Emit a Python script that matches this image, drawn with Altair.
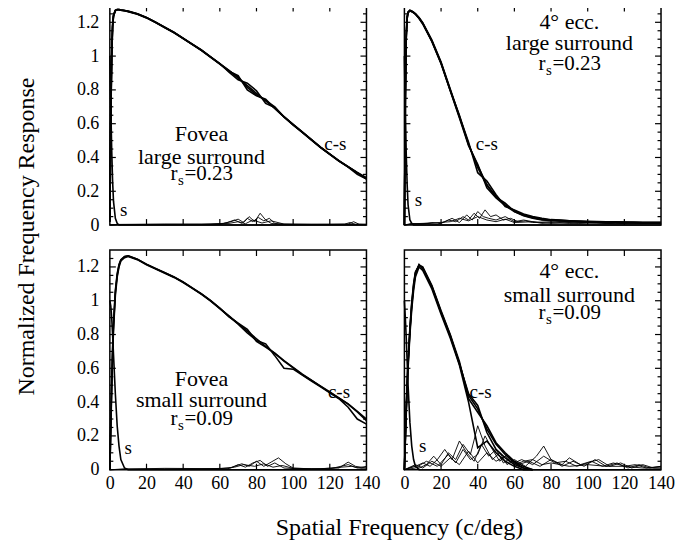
import altair as alt
import pandas as pd

FONT = "Liberation Serif"
W, H = 257, 220

Y_TITLE = "Normalized Frequency Response"
X_TITLE = "Spatial Frequency (c/deg)"

X_LABELS = [0, 20, 40, 60, 80, 100, 120, 140]
Y_LABELS = [0, 0.2, 0.4, 0.6, 0.8, 1, 1.2]
XT_MAJOR = [20, 40, 60, 80, 100, 120]
YT_MAJOR = [0.2, 0.4, 0.6, 0.8, 1.0, 1.2]
YT_MINOR = [0.05, 0.1, 0.15, 0.25, 0.3, 0.35, 0.45, 0.5, 0.55, 0.65, 0.7, 0.75,
            0.85, 0.9, 0.95, 1.05, 1.1, 1.15, 1.25]

# common frequency grid for the c-s curves
X = [0, 0.5, 1, 1.5, 2, 3, 4, 5, 6, 8, 10, 15, 20, 25, 30, 35, 40, 45, 50, 55, 60,
     65, 70, 75, 80, 85, 90, 95, 100, 105, 110, 115, 120, 125, 130, 135, 140]
DX = X[:23]
S_X = [0, 0.5, 1, 1.5, 2, 3, 4, 5, 6, 8, 10, 140]

# ---- Fovea, large surround
A_CS1 = [0.02, 0.62, 1.0, 1.18, 1.24, 1.27, 1.275, 1.275, 1.272, 1.27, 1.265, 1.25, 1.228, 1.2, 1.17, 1.14, 1.105, 1.07, 1.035, 0.995, 0.955, 0.915, 0.87, 0.825, 0.78, 0.735, 0.69, 0.64, 0.595, 0.55, 0.505, 0.46, 0.42, 0.38, 0.345, 0.31, 0.275]
A_CS2 = [0.02, 0.58, 0.98, 1.17, 1.235, 1.268, 1.274, 1.274, 1.272, 1.268, 1.263, 1.248, 1.226, 1.198, 1.168, 1.138, 1.103, 1.068, 1.033, 0.993, 0.953, 0.91, 0.885, 0.8, 0.765, 0.745, 0.69, 0.64, 0.592, 0.548, 0.503, 0.458, 0.418, 0.378, 0.343, 0.3, 0.272]
A_CS3 = [0.03, 0.65, 1.02, 1.19, 1.245, 1.272, 1.276, 1.276, 1.273, 1.27, 1.266, 1.251, 1.229, 1.201, 1.171, 1.141, 1.106, 1.071, 1.036, 0.996, 0.956, 0.905, 0.86, 0.84, 0.795, 0.72, 0.695, 0.642, 0.596, 0.551, 0.506, 0.461, 0.421, 0.381, 0.346, 0.312, 0.28]
A_CS4 = [0.02, 0.6, 0.99, 1.175, 1.238, 1.269, 1.275, 1.275, 1.272, 1.269, 1.264, 1.249, 1.227, 1.199, 1.169, 1.139, 1.104, 1.069, 1.034, 0.994, 0.954, 0.914, 0.875, 0.815, 0.77, 0.738, 0.7, 0.64, 0.594, 0.549, 0.504, 0.459, 0.419, 0.379, 0.344, 0.309, 0.274]
A_S = [1.0, 0.72, 0.45, 0.26, 0.14, 0.04, 0.01, 0.0, 0.0, 0.0, 0.0, 0.0]
A_N1_X = [0, 5, 50, 62, 66, 70, 73, 76, 79, 82, 85, 88, 92, 100, 130, 133, 136, 140]
A_N1_Y = [0, 0.003, 0.005, 0.01, 0.02, 0.035, 0.015, 0.05, 0.02, 0.07, 0.03, 0.01, 0.005, 0.004, 0.005, 0.02, 0.005, 0.004]
A_N2_X = [0, 5, 40, 60, 64, 68, 72, 75, 78, 81, 84, 87, 90, 95, 120, 128, 131, 134, 140]
A_N2_Y = [0, 0.002, 0.004, 0.005, 0.015, 0.03, 0.01, 0.04, 0.02, 0.045, 0.025, 0.04, 0.01, 0.005, 0.004, 0.005, 0.015, 0.004, 0.003]
A_N3_X = [0, 5, 30, 55, 65, 70, 74, 78, 83, 88, 95, 110, 140]
A_N3_Y = [0, 0.004, 0.006, 0.004, 0.01, 0.02, 0.008, 0.03, 0.012, 0.025, 0.006, 0.004, 0.005]

# ---- 4 deg ecc., large surround
B_CS1 = [0.0, 0.75, 1.12, 1.23, 1.26, 1.27, 1.265, 1.258, 1.25, 1.225, 1.195, 1.09, 0.96, 0.8, 0.64, 0.48, 0.34, 0.235, 0.17, 0.12, 0.085, 0.06, 0.045, 0.035, 0.03, 0.028, 0.025, 0.022, 0.02, 0.02, 0.018, 0.018, 0.016, 0.016, 0.015, 0.015, 0.015]
B_CS2 = [0.0, 0.7, 1.1, 1.22, 1.255, 1.268, 1.263, 1.256, 1.248, 1.222, 1.19, 1.085, 0.955, 0.795, 0.635, 0.47, 0.36, 0.22, 0.16, 0.115, 0.08, 0.055, 0.04, 0.03, 0.028, 0.025, 0.022, 0.02, 0.018, 0.018, 0.016, 0.016, 0.015, 0.015, 0.014, 0.014, 0.014]
B_CS3 = [0.0, 0.78, 1.14, 1.235, 1.262, 1.272, 1.267, 1.26, 1.252, 1.228, 1.198, 1.095, 0.965, 0.805, 0.645, 0.49, 0.31, 0.26, 0.18, 0.11, 0.09, 0.065, 0.05, 0.04, 0.032, 0.03, 0.026, 0.024, 0.022, 0.021, 0.02, 0.019, 0.018, 0.017, 0.016, 0.016, 0.016]
B_CS4 = [0.0, 0.72, 1.11, 1.225, 1.258, 1.269, 1.264, 1.257, 1.249, 1.224, 1.193, 1.088, 0.958, 0.798, 0.65, 0.475, 0.35, 0.24, 0.165, 0.13, 0.08, 0.058, 0.043, 0.033, 0.029, 0.026, 0.024, 0.021, 0.019, 0.019, 0.017, 0.017, 0.015, 0.015, 0.014, 0.014, 0.014]
B_S = [1.0, 0.7, 0.42, 0.24, 0.12, 0.03, 0.01, 0.0, 0.0, 0.0, 0.0, 0.0]
B_N1_X = [0, 4, 10, 15, 20, 24, 28, 32, 35, 38, 41, 44, 47, 50, 54, 58, 62, 66, 70, 80, 90, 100, 110, 120, 130, 140]
B_N1_Y = [0, 0.01, 0.005, 0.015, 0.01, 0.03, 0.02, 0.05, 0.03, 0.07, 0.04, 0.09, 0.05, 0.06, 0.03, 0.04, 0.02, 0.025, 0.015, 0.02, 0.01, 0.015, 0.01, 0.015, 0.01, 0.012]
B_N2_X = [0, 4, 12, 18, 22, 26, 30, 34, 37, 40, 43, 46, 50, 55, 60, 65, 75, 85, 95, 105, 115, 125, 135, 140]
B_N2_Y = [0, 0.005, 0.01, 0.005, 0.02, 0.04, 0.015, 0.06, 0.03, 0.08, 0.05, 0.04, 0.03, 0.05, 0.02, 0.03, 0.01, 0.02, 0.01, 0.012, 0.008, 0.012, 0.01, 0.008]
B_N3_X = [0, 5, 15, 25, 30, 35, 40, 45, 50, 55, 60, 70, 80, 100, 120, 140]
B_N3_Y = [0, 0.008, 0.012, 0.02, 0.04, 0.025, 0.05, 0.03, 0.02, 0.035, 0.015, 0.02, 0.01, 0.015, 0.01, 0.01]

# ---- Fovea, small surround
C_CS1 = [0.0, 0.25, 0.5, 0.7, 0.85, 1.05, 1.15, 1.21, 1.24, 1.26, 1.265, 1.245, 1.215, 1.19, 1.165, 1.14, 1.11, 1.075, 1.04, 1.0, 0.955, 0.91, 0.865, 0.82, 0.775, 0.73, 0.69, 0.645, 0.605, 0.565, 0.53, 0.495, 0.46, 0.425, 0.39, 0.345, 0.3]
C_CS2 = [0.0, 0.22, 0.47, 0.67, 0.83, 1.03, 1.14, 1.2, 1.235, 1.255, 1.262, 1.243, 1.213, 1.188, 1.163, 1.138, 1.108, 1.073, 1.038, 0.998, 0.953, 0.908, 0.862, 0.81, 0.765, 0.745, 0.675, 0.6, 0.595, 0.56, 0.525, 0.49, 0.455, 0.42, 0.37, 0.3, 0.27]
C_CS3 = [0.0, 0.27, 0.52, 0.72, 0.87, 1.06, 1.16, 1.215, 1.242, 1.262, 1.266, 1.246, 1.216, 1.191, 1.166, 1.141, 1.111, 1.076, 1.041, 1.001, 0.956, 0.905, 0.868, 0.83, 0.76, 0.725, 0.688, 0.642, 0.603, 0.563, 0.528, 0.493, 0.458, 0.423, 0.388, 0.342, 0.29]
C_S = [1.0, 0.97, 0.9, 0.8, 0.68, 0.45, 0.26, 0.14, 0.06, 0.01, 0.0, 0.0]
C_N1_X = [0, 8, 40, 64, 68, 72, 76, 80, 84, 88, 92, 96, 100, 110, 125, 130, 134, 140]
C_N1_Y = [0, 0.003, 0.004, 0.005, 0.02, 0.035, 0.02, 0.05, 0.02, 0.045, 0.07, 0.035, 0.01, 0.005, 0.01, 0.045, 0.02, 0.01]
C_N2_X = [0, 8, 50, 66, 70, 74, 78, 82, 86, 90, 95, 105, 120, 126, 130, 135, 140]
C_N2_Y = [0, 0.002, 0.004, 0.01, 0.03, 0.015, 0.04, 0.055, 0.02, 0.04, 0.01, 0.004, 0.005, 0.02, 0.03, 0.01, 0.02]
C_N3_X = [0, 8, 30, 60, 68, 73, 79, 84, 89, 94, 100, 115, 132, 137, 140]
C_N3_Y = [0, 0.004, 0.008, 0.006, 0.015, 0.03, 0.02, 0.035, 0.015, 0.025, 0.008, 0.005, 0.02, 0.008, 0.01]

# ---- 4 deg ecc., small surround
D_CS1 = [0.0, 0.18, 0.35, 0.5, 0.62, 0.82, 0.97, 1.08, 1.16, 1.215, 1.19, 1.08, 0.93, 0.79, 0.63, 0.44, 0.36, 0.24, 0.15, 0.09, 0.04, 0.01, 0.0]
D_CS2 = [0.0, 0.2, 0.37, 0.52, 0.64, 0.84, 0.99, 1.1, 1.17, 1.21, 1.2, 1.09, 0.94, 0.8, 0.64, 0.42, 0.34, 0.26, 0.16, 0.1, 0.05, 0.02, 0.0]
D_CS3 = [0.0, 0.16, 0.33, 0.48, 0.6, 0.8, 0.95, 1.06, 1.14, 1.2, 1.18, 1.07, 0.92, 0.78, 0.62, 0.4, 0.13, 0.17, 0.1, 0.05, 0.02, 0.0, 0.0]
D_CS4 = [0.0, 0.19, 0.36, 0.51, 0.63, 0.83, 0.98, 1.09, 1.165, 1.212, 1.195, 1.085, 0.935, 0.795, 0.625, 0.45, 0.38, 0.22, 0.12, 0.07, 0.03, 0.01, 0.0]
D_S = [1.0, 0.9, 0.78, 0.64, 0.5, 0.28, 0.14, 0.06, 0.02, 0.0, 0.0, 0.0]
D_N1_X = [0, 5, 8, 12, 16, 20, 24, 28, 32, 36, 40, 44, 48, 52, 56, 60, 66, 72, 76, 80, 86, 92, 98, 104, 110, 116, 122, 128, 134, 140]
D_N1_Y = [0, 0.02, 0.01, 0.03, 0.08, 0.03, 0.1, 0.06, 0.15, 0.09, 0.26, 0.14, 0.06, 0.1, 0.03, 0.06, 0.02, 0.08, 0.14, 0.06, 0.02, 0.05, 0.02, 0.06, 0.02, 0.04, 0.01, 0.03, 0.01, 0.02]
D_N2_X = [0, 6, 10, 14, 18, 22, 26, 30, 34, 38, 42, 46, 50, 54, 58, 62, 68, 74, 80, 86, 90, 96, 102, 108, 114, 120, 126, 132, 140]
D_N2_Y = [0, 0.02, 0.04, 0.02, 0.06, 0.12, 0.06, 0.17, 0.1, 0.05, 0.15, 0.08, 0.12, 0.04, 0.07, 0.03, 0.05, 0.02, 0.06, 0.03, 0.07, 0.03, 0.05, 0.02, 0.04, 0.02, 0.03, 0.01, 0.02]
D_N3_X = [0, 6, 12, 18, 24, 28, 32, 36, 40, 44, 48, 52, 56, 60, 64, 70, 76, 82, 88, 94, 100, 106, 112, 118, 124, 130, 136, 140]
D_N3_Y = [0, 0.01, 0.05, 0.02, 0.09, 0.04, 0.12, 0.06, 0.09, 0.2, 0.12, 0.05, 0.09, 0.04, 0.06, 0.03, 0.08, 0.04, 0.05, 0.02, 0.04, 0.06, 0.02, 0.04, 0.01, 0.03, 0.01, 0.01]
D_N4_X = [0, 6, 10, 15, 20, 25, 30, 35, 40, 45, 50, 55, 60, 65, 70, 75, 80, 90, 100, 110, 120, 130, 140]
D_N4_Y = [0, 0.03, 0.01, 0.05, 0.02, 0.07, 0.03, 0.11, 0.04, 0.1, 0.05, 0.08, 0.03, 0.05, 0.06, 0.03, 0.04, 0.02, 0.03, 0.02, 0.02, 0.01, 0.01]

# ---- annotations: (x, y, text)
A_BIG = [(50, 0.54, "Fovea"), (50, 0.405, "large surround")]
A_RS = (50, 0.30, "=0.23")
A_SMALL = [(123, 0.48, "c-s"), (7.5, 0.09, "s")]
B_BIG = [(90, 1.2, "4° ecc."), (90, 1.075, "large surround")]
B_RS = (90, 0.955, "=0.23")
B_SMALL = [(45, 0.48, "c-s"), (7.6, 0.15, "s")]
C_BIG = [(50, 0.535, "Fovea"), (50, 0.415, "small surround")]
C_RS = (50, 0.30, "=0.09")
C_SMALL = [(125, 0.46, "c-s"), (10, 0.13, "s")]
D_BIG = [(90, 1.175, "4° ecc."), (90, 1.035, "small surround")]
D_RS = (90, 0.93, "=0.09")
D_SMALL = [(41.6, 0.46, "c-s"), (10, 0.14, "s")]

XS = alt.Scale(domain=[0, 140], nice=False, zero=False)
YS = alt.Scale(domain=[0, 1.3], nice=False, zero=False)
AX = dict(title=None, labelFont=FONT, labelFontSize=18, labelColor="black",
          ticks=False, domain=False, grid=False)
FRAME = alt.ViewBackground(stroke="black", strokeWidth=1.5)


def xenc(field, show):
    if show:
        ax = alt.Axis(values=X_LABELS, labelFlush=False, labelPadding=5, **AX)
        return alt.X(f"{field}:Q", scale=XS, axis=ax)
    return alt.X(f"{field}:Q", scale=XS, axis=None)


def yenc(field, show):
    if show:
        ax = alt.Axis(values=Y_LABELS, format="~g", labelPadding=11, **AX)
        return alt.Y(f"{field}:Q", scale=YS, axis=ax)
    return alt.Y(f"{field}:Q", scale=YS, axis=None)


def series_df(pairs):
    rows = []
    for i, (xs, ys) in enumerate(pairs):
        for a, b in zip(xs, ys):
            rows.append({"x": a, "y": b, "id": f"s{i}"})
    return pd.DataFrame(rows)


def panel(cs_x, cs_list, s_y, noise, big, rs, small, show_x, show_y):
    cs_df = series_df([(cs_x, c) for c in cs_list])
    s_df = series_df([(S_X, s_y)])
    n_df = series_df(noise)
    xe, ye = xenc("x", show_x), yenc("y", show_y)
    layers = []
    layers.append(alt.Chart(n_df).mark_line(color="black", strokeWidth=0.9)
                  .encode(x=xe, y=ye, detail="id:N"))
    layers.append(alt.Chart(s_df).mark_line(color="black", strokeWidth=1.6)
                  .encode(x=xe, y=ye, detail="id:N"))
    layers.append(alt.Chart(cs_df).mark_line(color="black", strokeWidth=1.6)
                  .encode(x=xe, y=ye, detail="id:N"))
    # inward ticks on all four sides
    xmaj = pd.DataFrame({"v": XT_MAJOR})
    ymaj = pd.DataFrame({"v": YT_MAJOR})
    ymin = pd.DataFrame({"v": YT_MINOR})
    tk = dict(color="black", strokeWidth=1.2)
    layers.append(alt.Chart(xmaj).mark_rule(**tk).encode(
        x=xenc("v", show_x), y=alt.value(H), y2=alt.value(H - 6)))
    layers.append(alt.Chart(xmaj).mark_rule(**tk).encode(
        x=xenc("v", show_x), y=alt.value(0), y2=alt.value(6)))
    for df, ln in ((ymaj, 6), (ymin, 3.5)):
        layers.append(alt.Chart(df).mark_rule(**tk).encode(
            y=yenc("v", show_y), x=alt.value(0), x2=alt.value(ln)))
        layers.append(alt.Chart(df).mark_rule(**tk).encode(
            y=yenc("v", show_y), x=alt.value(W - ln), x2=alt.value(W)))
    big_df = pd.DataFrame(big, columns=["x", "y", "t"])
    layers.append(alt.Chart(big_df).mark_text(font=FONT, fontSize=22, color="black",
                                              align="center", baseline="middle")
                  .encode(x=xenc("x", show_x), y=yenc("y", show_y), text="t:N"))
    small_df = pd.DataFrame(small, columns=["x", "y", "t"])
    layers.append(alt.Chart(small_df).mark_text(font=FONT, fontSize=19, color="black",
                                                align="center", baseline="middle")
                  .encode(x=xenc("x", show_x), y=yenc("y", show_y), text="t:N"))
    rs_df = pd.DataFrame([rs], columns=["x", "y", "t"])
    layers.append(alt.Chart(rs_df).mark_text(font=FONT, fontSize=21, color="black",
                                             align="left", baseline="middle", dx=-31)
                  .encode(x=xenc("x", show_x), y=yenc("y", show_y), text=alt.value("r")))
    layers.append(alt.Chart(rs_df).mark_text(font=FONT, fontSize=15, color="black",
                                             align="left", baseline="middle", dx=-23.5, dy=6)
                  .encode(x=xenc("x", show_x), y=yenc("y", show_y), text=alt.value("s")))
    layers.append(alt.Chart(rs_df).mark_text(font=FONT, fontSize=21, color="black",
                                             align="left", baseline="middle", dx=-17)
                  .encode(x=xenc("x", show_x), y=yenc("y", show_y), text="t:N"))
    return alt.layer(*layers).properties(width=W, height=H, view=FRAME)


pA = panel(X, [A_CS1, A_CS2, A_CS3, A_CS4], A_S,
           [(A_N1_X, A_N1_Y), (A_N2_X, A_N2_Y), (A_N3_X, A_N3_Y)],
           A_BIG, A_RS, A_SMALL, False, True)
pB = panel(X, [B_CS1, B_CS2, B_CS3, B_CS4], B_S,
           [(B_N1_X, B_N1_Y), (B_N2_X, B_N2_Y), (B_N3_X, B_N3_Y)],
           B_BIG, B_RS, B_SMALL, False, False)
pC = panel(X, [C_CS1, C_CS2, C_CS3], C_S,
           [(C_N1_X, C_N1_Y), (C_N2_X, C_N2_Y), (C_N3_X, C_N3_Y)],
           C_BIG, C_RS, C_SMALL, True, True)
pD = panel(DX, [D_CS1, D_CS2, D_CS3, D_CS4], D_S,
           [(D_N1_X, D_N1_Y), (D_N2_X, D_N2_Y), (D_N3_X, D_N3_Y), (D_N4_X, D_N4_Y)],
           D_BIG, D_RS, D_SMALL, True, False)

ytitle = (alt.Chart(pd.DataFrame({"t": [Y_TITLE]}))
          .mark_text(font=FONT, fontSize=24, angle=270, color="black",
                     align="center", baseline="middle")
          .encode(x=alt.value(18), y=alt.value(231.5), text="t:N")
          .properties(width=45, height=463, view=alt.ViewBackground(stroke="transparent")))

xtitle = (alt.Chart(pd.DataFrame({"t": [X_TITLE]}))
          .mark_text(font=FONT, fontSize=24, color="black",
                     align="center", baseline="middle")
          .encode(x=alt.value(290), y=alt.value(27), text="t:N")
          .properties(width=552, height=32, view=alt.ViewBackground(stroke="transparent")))

panels = alt.vconcat(
    alt.hconcat(pA, pB, spacing=38, bounds="flush"),
    alt.hconcat(pC, pD, spacing=38, bounds="flush"),
    spacing=13,
)
grid = alt.vconcat(panels, xtitle, spacing=6)

PAD = {"left": 0, "top": -5, "right": 0, "bottom": 0}

chart = (alt.hconcat(ytitle, grid, spacing=20)
         .properties(padding=PAD)
         .configure(background="white")
         .configure_view(stroke="black", strokeWidth=1.5))

chart.save("out.html", embed_options={"renderer": "svg", "actions": False})
